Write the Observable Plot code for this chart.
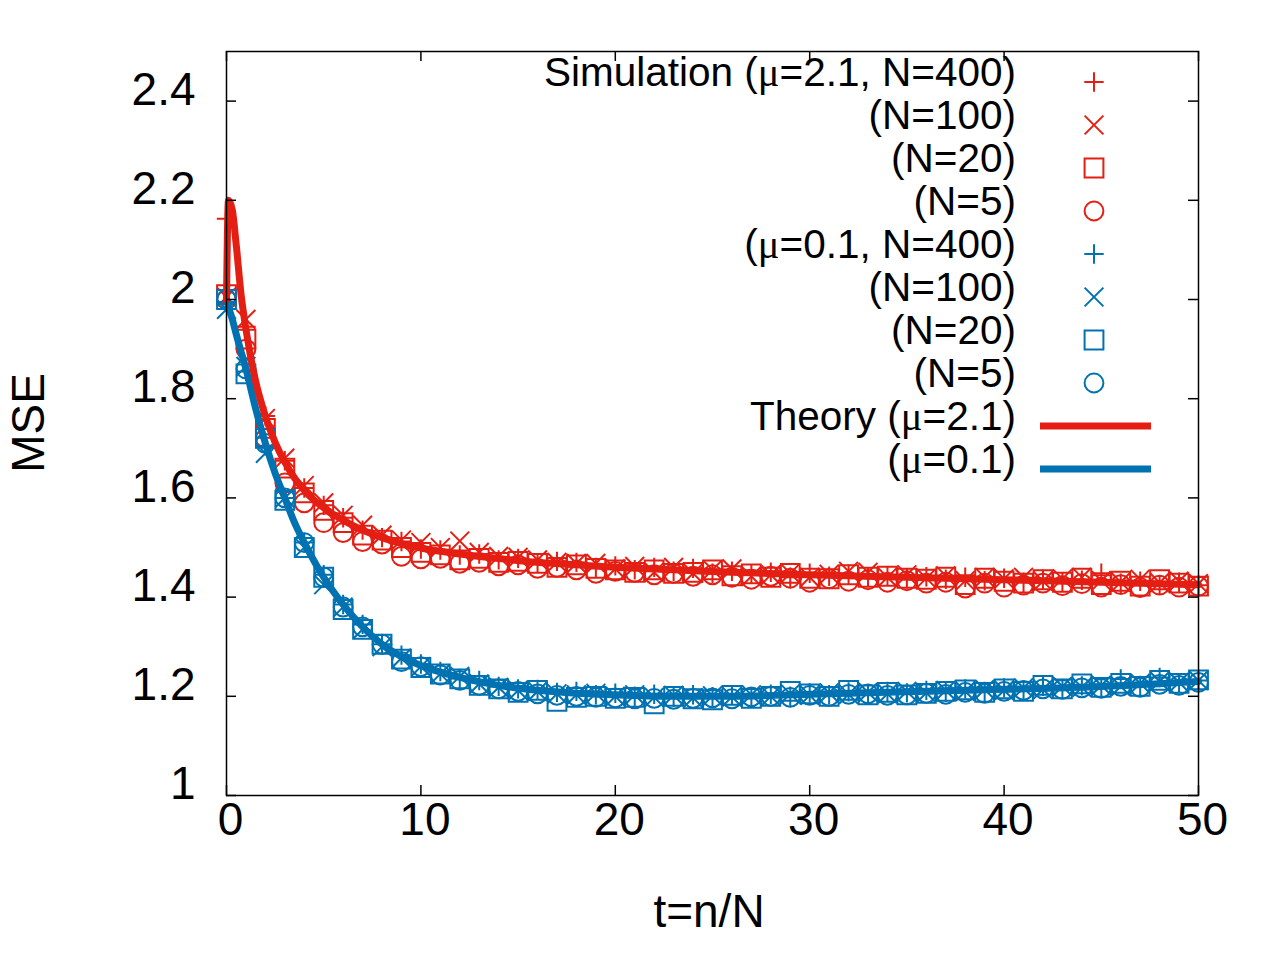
<!DOCTYPE html>
<html>
<head>
<meta charset="utf-8">
<script src="https://cdn.jsdelivr.net/npm/d3@7"></script>
<script src="https://cdn.jsdelivr.net/npm/@observablehq/plot@0.6"></script>
<style>
  html, body { margin: 0; padding: 0; background: #fff; }
  #wrap { position: relative; width: 1280px; height: 960px; }
  #wrap svg { position: absolute; left: 0; top: 0; }
</style>
</head>
<body>
<div id="wrap"></div>
<script>
// ---------- data ----------
const xTicks = [0, 10, 20, 30, 40, 50];
const yTicks = [1, 1.2, 1.4, 1.6, 1.8, 2, 2.2, 2.4];

// simulation sample times t = 0..50
const simT = d3.range(0, 51);

const redN400 = [2.163,1.945,1.765,1.675,1.62,1.585,1.56,1.535,1.52,1.512,1.497,1.495,1.485,1.487,1.475,1.478,1.468,1.472,1.47,1.46,1.463,1.455,1.46,1.452,1.458,1.448,1.452,1.446,1.45,1.44,1.448,1.442,1.446,1.44,1.443,1.437,1.441,1.436,1.44,1.433,1.438,1.43,1.436,1.431,1.434,1.448,1.428,1.432,1.425,1.43,1.424];
const redN100 = [2.005,1.96,1.76,1.68,1.625,1.59,1.565,1.545,1.525,1.515,1.51,1.5,1.513,1.49,1.482,1.48,1.475,1.47,1.468,1.468,1.457,1.462,1.45,1.46,1.448,1.455,1.457,1.442,1.445,1.448,1.44,1.446,1.452,1.45,1.44,1.445,1.438,1.443,1.433,1.44,1.437,1.44,1.432,1.437,1.44,1.433,1.43,1.436,1.429,1.432,1.427];
const redN20  = [2.01,1.92,1.74,1.66,1.61,1.575,1.55,1.525,1.515,1.5,1.49,1.485,1.475,1.478,1.47,1.472,1.468,1.46,1.465,1.458,1.455,1.45,1.455,1.448,1.45,1.455,1.443,1.447,1.44,1.448,1.438,1.437,1.445,1.44,1.442,1.438,1.436,1.44,1.425,1.438,1.432,1.428,1.435,1.43,1.438,1.425,1.432,1.422,1.435,1.428,1.422];
const redN5   = [2.0,1.9,1.72,1.63,1.59,1.55,1.53,1.512,1.507,1.482,1.477,1.478,1.468,1.47,1.463,1.465,1.458,1.46,1.455,1.448,1.452,1.45,1.445,1.448,1.442,1.445,1.44,1.436,1.442,1.438,1.43,1.437,1.432,1.435,1.43,1.433,1.428,1.43,1.418,1.428,1.42,1.424,1.428,1.423,1.427,1.42,1.425,1.419,1.424,1.42,1.422];

const blueN400 = [1.995,1.855,1.705,1.6,1.51,1.445,1.385,1.345,1.305,1.283,1.265,1.25,1.236,1.232,1.22,1.215,1.214,1.208,1.21,1.203,1.206,1.2,1.204,1.198,1.203,1.199,1.202,1.198,1.204,1.2,1.207,1.203,1.209,1.205,1.21,1.207,1.212,1.208,1.215,1.21,1.217,1.213,1.22,1.216,1.221,1.218,1.235,1.222,1.238,1.226,1.232];
const blueN100 = [1.98,1.865,1.69,1.6,1.5,1.425,1.38,1.335,1.3,1.277,1.26,1.245,1.24,1.225,1.218,1.212,1.21,1.205,1.203,1.206,1.2,1.203,1.198,1.202,1.197,1.201,1.199,1.203,1.2,1.205,1.202,1.207,1.204,1.208,1.205,1.21,1.207,1.212,1.21,1.214,1.212,1.217,1.214,1.22,1.218,1.222,1.22,1.226,1.23,1.228,1.232];
const blueN20  = [2.0,1.85,1.72,1.595,1.5,1.44,1.375,1.335,1.305,1.275,1.258,1.245,1.235,1.222,1.215,1.208,1.212,1.19,1.198,1.2,1.196,1.198,1.185,1.2,1.195,1.193,1.202,1.196,1.2,1.21,1.205,1.2,1.212,1.203,1.208,1.203,1.206,1.21,1.213,1.208,1.215,1.21,1.222,1.215,1.225,1.218,1.226,1.22,1.232,1.226,1.233];
const blueN5   = [2.0,1.86,1.71,1.6,1.51,1.44,1.38,1.34,1.305,1.27,1.26,1.243,1.232,1.222,1.215,1.21,1.205,1.202,1.2,1.198,1.197,1.195,1.196,1.194,1.196,1.197,1.195,1.199,1.2,1.198,1.202,1.2,1.204,1.205,1.202,1.203,1.206,1.204,1.208,1.206,1.21,1.212,1.215,1.214,1.217,1.216,1.22,1.218,1.224,1.222,1.228];

// theory curves
const theoryT    = [0,0.1,0.3,0.5,0.75,1,1.5,2,2.5,3,3.5,4,5,6,7,8,9,10,12,14,16,18,20,23,26,30,35,40,45,50];
const theoryRed  = [2.0,2.2,2.18,2.11,2.01,1.94,1.835,1.765,1.712,1.672,1.64,1.615,1.58,1.555,1.535,1.52,1.508,1.499,1.487,1.478,1.47,1.465,1.46,1.455,1.45,1.445,1.44,1.435,1.43,1.425];
const theoryBlue = [2.0,1.985,1.96,1.93,1.895,1.86,1.78,1.71,1.65,1.6,1.55,1.51,1.44,1.385,1.34,1.305,1.28,1.262,1.238,1.222,1.212,1.206,1.203,1.2,1.2,1.204,1.209,1.214,1.22,1.23];

const legendLabels = ["Simulation (\u03bc=2.1, N=400)", "(N=100)", "(N=20)", "(N=5)",
                      "(\u03bc=0.1, N=400)", "(N=100)", "(N=20)", "(N=5)",
                      "Theory (\u03bc=2.1)", "(\u03bc=0.1)"];

// ---------- styling ----------
const RED = "#e41e13";
const BLUE = "#0072b2";
const FONT = "'Liberation Sans', Arial, sans-serif";
const SERIF = "'Liberation Serif', 'DejaVu Serif', serif";

const W = 1280, H = 960;
const mL = 226, mR = 82, mT = 51, mB = 165;
const innerW = W - mL - mR, innerH = H - mT - mB;
const TICK = 10;
const R = 9.7;

// custom open symbols (gnuplot-like)
const symPlus = {draw(c, s) { const r = Math.sqrt(s / Math.PI); c.moveTo(-r, 0); c.lineTo(r, 0); c.moveTo(0, -r); c.lineTo(0, r); }};
const symTimes = {draw(c, s) { const r = Math.sqrt(s / Math.PI) * 0.97; c.moveTo(-r, -r); c.lineTo(r, r); c.moveTo(-r, r); c.lineTo(r, -r); }};
const symSquare = {draw(c, s) { const r = Math.sqrt(s / Math.PI) * 0.97; c.moveTo(-r, -r); c.lineTo(r, -r); c.lineTo(r, r); c.lineTo(-r, r); c.closePath(); }};
const symCircle = {draw(c, s) { const r = Math.sqrt(s / Math.PI) * 0.97; c.moveTo(r, 0); c.arc(0, 0, r, 0, 2 * Math.PI); }};

const series = [
  {vals: redN400, sym: symPlus, color: RED},
  {vals: redN100, sym: symTimes, color: RED},
  {vals: redN20, sym: symSquare, color: RED},
  {vals: redN5, sym: symCircle, color: RED},
  {vals: blueN400, sym: symPlus, color: BLUE},
  {vals: blueN100, sym: symTimes, color: BLUE},
  {vals: blueN20, sym: symSquare, color: BLUE},
  {vals: blueN5, sym: symCircle, color: BLUE}
];

const dotMarks = series.map(s => Plot.dot(simT.map((t, i) => ({t, v: s.vals[i]})), {
  x: "t", y: "v", symbol: () => s.sym, r: R, fill: "none", stroke: s.color, strokeWidth: 2
}));

const redCurve = theoryT.map((t, i) => ({t, v: theoryRed[i]}));
const blueCurve = theoryT.map((t, i) => ({t, v: theoryBlue[i]}));

const fmt = d => String(d);

const chart = Plot.plot({
  width: W, height: H,
  marginLeft: mL, marginRight: mR, marginTop: mT, marginBottom: mB,
  x: {domain: [0, 50], axis: null},
  y: {domain: [1, 2.5], axis: null},
  style: {fontFamily: FONT, background: "white", overflow: "visible"},
  marks: [
    ...dotMarks,
    Plot.line(blueCurve, {x: "t", y: "v", stroke: BLUE, strokeWidth: 7, curve: "monotone-x"}),
    Plot.line(redCurve, {x: "t", y: "v", stroke: RED, strokeWidth: 7, curve: "monotone-x"}),
    // inward ticks, bottom/top
    Plot.ruleX(xTicks, {x: d => d, insetTop: innerH - TICK, stroke: "black", strokeWidth: 1.5}),
    Plot.ruleX(xTicks, {x: d => d, insetBottom: innerH - TICK, stroke: "black", strokeWidth: 1.5}),
    // inward ticks, left/right
    Plot.ruleY(yTicks, {y: d => d, insetRight: innerW - TICK, stroke: "black", strokeWidth: 1.5}),
    Plot.ruleY(yTicks, {y: d => d, insetLeft: innerW - TICK, stroke: "black", strokeWidth: 1.5}),
    Plot.frame({stroke: "black", strokeWidth: 1.5}),
    // tick labels
    Plot.text(xTicks, {x: d => d, text: fmt, frameAnchor: "bottom", dy: 39, dx: 4, fontSize: 46, fill: "black"}),
    Plot.text(yTicks, {y: d => d, text: fmt, frameAnchor: "left", textAnchor: "end", dx: -31, dy: -11, fontSize: 46, fill: "black"})
  ]
});

const wrap = document.getElementById("wrap");
wrap.appendChild(chart);

// ---------- overlay: axis labels + key ----------
const ov = d3.select(wrap).append("svg")
  .attr("width", W).attr("height", H)
  .style("pointer-events", "none")
  .attr("font-family", FONT);

ov.append("text").attr("x", 709).attr("y", 927).attr("text-anchor", "middle")
  .attr("font-size", 46).attr("fill", "black").text("t=n/N");
ov.append("text").attr("transform", "translate(44,423) rotate(-90)").attr("text-anchor", "middle")
  .attr("font-size", 46).attr("fill", "black").text("MSE");

const keyTextX = 1016, keySymX = 1094, keyY0 = 82, keyStep = 43;
legendLabels.forEach((lab, i) => {
  const y = keyY0 + i * keyStep;
  const t = ov.append("text").attr("x", keyTextX).attr("y", y + 4).attr("text-anchor", "end")
    .attr("font-size", 40.5).attr("fill", "black");
  const parts = lab.split("\u03bc");
  parts.forEach((p, j) => {
    if (j > 0) t.append("tspan").attr("font-family", SERIF).text("\u03bc");
    t.append("tspan").text(p);
  });
  if (i < 8) {
    const s = series[i];
    ov.append("path")
      .attr("transform", `translate(${keySymX},${y})`)
      .attr("d", d3.symbol().type(s.sym).size(Math.PI * R * R)())
      .attr("fill", "none").attr("stroke", s.color).attr("stroke-width", 2);
  } else {
    ov.append("line").attr("x1", 1040).attr("x2", 1151).attr("y1", y).attr("y2", y)
      .attr("stroke", i === 8 ? RED : BLUE).attr("stroke-width", 7);
  }
});
</script>
</body>
</html>
